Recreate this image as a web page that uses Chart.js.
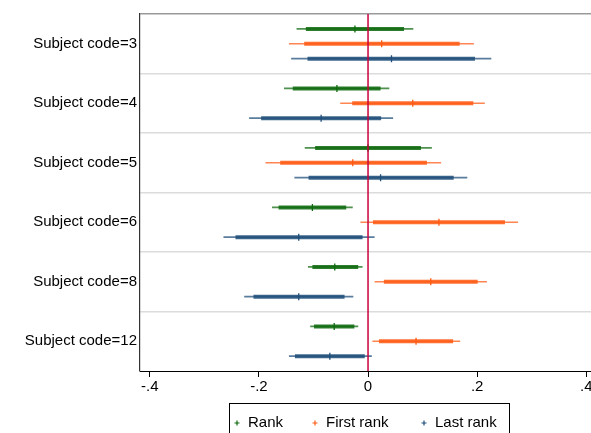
<!DOCTYPE html>
<html>
<head>
<meta charset="utf-8">
<script src="https://cdn.jsdelivr.net/npm/chart.js@4"></script>
<style>
  html, body { margin: 0; padding: 0; background: #fff; overflow: hidden; }
  #wrap { width: 597px; height: 433px; }
</style>
</head>
<body>
<div id="wrap"><canvas id="coefChart"></canvas></div>
<script>
/* ===== data ===== */
const categories = ["Subject code=3", "Subject code=4", "Subject code=5",
                    "Subject code=6", "Subject code=8", "Subject code=12"];
const seriesNames = ["Rank", "First rank", "Last rank"];

// point estimates
const rankEst  = [-0.024, -0.057,  0.000, -0.102, -0.061, -0.062];
const firstEst = [ 0.025,  0.082, -0.028,  0.130,  0.115,  0.088];
const lastEst  = [ 0.043, -0.086,  0.023, -0.127, -0.127, -0.070];

// outer (thin) interval
const rankLo95  = [-0.131, -0.154, -0.116, -0.176, -0.110, -0.106];
const rankHi95  = [ 0.083,  0.039,  0.117, -0.028, -0.010, -0.018];
const firstLo95 = [-0.145, -0.051, -0.188, -0.014,  0.012,  0.008];
const firstHi95 = [ 0.194,  0.214,  0.134,  0.275,  0.218,  0.169];
const lastLo95  = [-0.141, -0.218, -0.135, -0.265, -0.227, -0.145];
const lastHi95  = [ 0.226,  0.046,  0.182,  0.012, -0.027,  0.007];

// inner (thick) interval
const rankLo90  = [-0.114, -0.138, -0.097, -0.164, -0.102, -0.099];
const rankHi90  = [ 0.066,  0.023,  0.097, -0.040, -0.018, -0.025];
const firstLo90 = [-0.117, -0.029, -0.161,  0.009,  0.029,  0.020];
const firstHi90 = [ 0.168,  0.193,  0.108,  0.251,  0.201,  0.156];
const lastLo90  = [-0.111, -0.196, -0.109, -0.243, -0.210, -0.134];
const lastHi90  = [ 0.196,  0.024,  0.157, -0.010, -0.043, -0.006];

const xTicks = [-0.4, -0.2, 0, 0.2, 0.4];
const xTickLabels = ["-.4", "-.2", "0", ".2", ".4"];

/* ===== build datasets ===== */
const colors = ["#0e6a0e", "#ff5a14", "#1f4e79"];
const offsets = [-0.25, 0, 0.25];

function segments(lo, hi, off){
    const pts = [];
    lo.forEach((v, i) => {
        pts.push({x: v, y: i + off}, {x: hi[i], y: i + off}, {x: null, y: null});
    });
    return pts;
}

const series = [
    [rankEst,  rankLo95,  rankHi95,  rankLo90,  rankHi90],
    [firstEst, firstLo95, firstHi95, firstLo90, firstHi90],
    [lastEst,  lastLo95,  lastHi95,  lastLo90,  lastHi90]
];

const datasets = [];
series.forEach((s, k) => {
    const [est, lo95, hi95, lo90, hi90] = s;
    datasets.push({
        type: "line", label: "_thin", data: segments(lo95, hi95, offsets[k]),
        borderColor: colors[k] + "bb", borderWidth: 1.6, pointRadius: 0,
        spanGaps: false, order: 3
    });
    datasets.push({
        type: "line", label: "_thick", data: segments(lo90, hi90, offsets[k]),
        borderColor: colors[k] + "dd", borderWidth: 4, pointRadius: 0,
        spanGaps: false, order: 2
    });
    datasets.push({
        type: "scatter", label: seriesNames[k],
        data: est.map((v, i) => ({x: v, y: i + offsets[k]})),
        pointStyle: "line", rotation: 90, radius: 3.5, borderWidth: 1.3,
        borderColor: colors[k], backgroundColor: colors[k], order: 1
    });
});
// reference line at 0
datasets.push({
    type: "line", label: "_zero", data: [{x: 0, y: -0.5}, {x: 0, y: 5.5}],
    borderColor: "#c8003c", borderWidth: 1.5, pointRadius: 0, order: 0
});

const fontFamily = "'Liberation Sans', Arial, Helvetica, sans-serif";

/* ===== legend drawn below the axis, centred on the plot ===== */
const legendBox = {
    id: "legendBox",
    afterDraw(chart){
        const c = chart.ctx;
        const x0 = 229, x1 = 509, y0 = 403;
        c.save();
        c.strokeStyle = "#000";
        c.lineWidth = 1;
        c.strokeRect(x0 + 0.5, y0 + 0.5, x1 - x0, 40);
        c.font = "15px " + fontFamily;
        c.textBaseline = "middle";
        const items = [[237, seriesNames[0]], [315, seriesNames[1]], [424, seriesNames[2]]];
        items.forEach(([x, t], k) => {
            const y = 423;
            c.strokeStyle = colors[k];
            c.lineWidth = 1.2;
            c.beginPath();
            c.moveTo(x - 2.5, y); c.lineTo(x + 2.5, y);
            c.moveTo(x, y - 2.5); c.lineTo(x, y + 2.5);
            c.stroke();
            c.fillStyle = "#000";
            c.fillText(t, x + 11, y);
        });
        c.restore();
    }
};

Chart.defaults.font = {family: fontFamily, size: 15};
Chart.defaults.color = "#000";

new Chart(document.getElementById("coefChart"), {
    type: "scatter",
    data: {datasets},
    options: {
        responsive: true,
        maintainAspectRatio: false,
        animation: false,
        layout: {padding: {left: 0, right: 0, top: 14, bottom: 32}},
        plugins: {
            tooltip: {enabled: false},
            legend: {display: false}
        },
        scales: {
            x: {
                type: "linear", min: -0.418, max: 0.41,
                afterBuildTicks: ax => { ax.ticks = xTicks.map(v => ({value: v})); },
                afterFit: ax => { ax.height = 30; },
                grid: {display: true, drawOnChartArea: false, drawTicks: true,
                       tickLength: 6, color: "#000"},
                border: {color: "#000", width: 1},
                ticks: {
                    padding: 1, maxRotation: 0,
                    callback: (v, i) => xTickLabels[i]
                }
            },
            y: {
                type: "linear", min: -0.5, max: 5.5, reverse: true,
                afterBuildTicks: ax => {
                    const t = [];
                    for(let v = -0.5; v <= 5.5; v += 0.5) t.push({value: v});
                    ax.ticks = t;
                },
                afterFit: ax => { ax.width = 140; },
                grid: {
                    drawTicks: false,
                    color: c => {
                        const v = c.tick ? c.tick.value : 0;
                        if(v === -0.5) return "#999";
                        if(v === 5.5) return "rgba(0,0,0,0)";
                        return Number.isInteger(v) ? "rgba(0,0,0,0)" : "#dcdcdc";
                    },
                    lineWidth: 1.5
                },
                border: {color: "#333", width: 1.2},
                ticks: {
                    padding: 3,
                    callback: v => Number.isInteger(v) ? categories[v] : ""
                }
            }
        }
    },
    plugins: [legendBox]
});
</script>
</body>
</html>
